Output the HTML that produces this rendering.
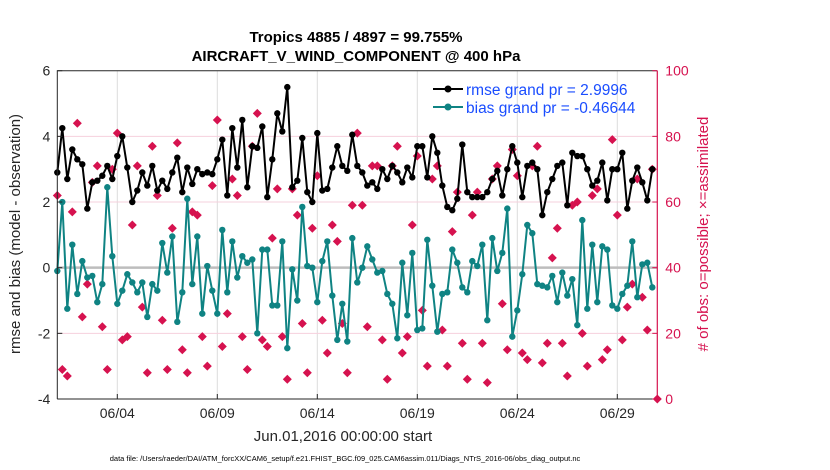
<!DOCTYPE html>
<html><head><meta charset="utf-8"><style>
body{margin:0;background:#fff;}
svg{display:block;font-family:"Liberation Sans",sans-serif;}
</style></head><body>
<svg id="chart" width="830" height="470" viewBox="0 0 830 470">
<g id="grid"></g><g id="marks"></g><g id="axes"></g>
</svg>
<script>
const rmse=[2.9,4.25,2.7,3.6,3.3,3.15,1.8,2.6,2.65,2.8,3.1,2.7,3.4,4.0,3.05,2.0,2.35,2.9,2.5,3.1,2.35,2.65,2.4,2.9,3.35,2.3,3.05,2.55,3.0,2.85,2.9,
2.85,3.3,3.9,2.2,4.25,3.05,4.5,2.45,3.7,3.65,4.3,2.15,3.3,4.7,4.15,5.5,2.45,2.65,3.95,2.3,2.0,4.1,2.35,2.4,3.05,3.7,3.1,2.95,4.05,
3.1,2.9,2.5,2.6,2.4,3.0,2.7,3.1,2.9,2.6,3.05,2.75,3.7,3.7,2.75,4.0,3.5,2.5,1.85,1.75,2.1,3.75,2.3,2.15,2.15,2.15,2.3,2.7,2.95,2.2,3.0,
3.7,3.2,2.15,3.1,3.2,3.0,1.6,2.3,2.7,3.1,3.2,1.9,3.5,3.4,3.4,3.0,2.5,2.65,3.2,2.05,3.0,3.0,3.5,1.8,2.65,3.05,2.6,2.05,3.0];
const bias=[-0.1,2.0,-1.25,0.7,-0.8,0.2,-0.3,-0.25,-1.05,-0.5,2.45,0.35,-1.1,-0.7,-0.2,-0.45,-0.75,-0.45,-1.5,-0.5,-0.7,0.75,-0.15,0.95,-1.65,-0.75,2.1,-0.5,0.95,-1.4,0.05,
-0.7,-1.4,1.15,-0.75,0.8,-0.3,0.35,0.15,0.25,-2.0,0.55,0.55,-1.15,-1.15,0.8,-2.45,-0.05,-1.0,1.85,0.05,0.0,-1.05,0.2,0.8,-0.85,-2.2,-1.1,-2.25,0.9,
-0.45,0.0,0.65,0.25,-0.15,-0.1,-0.8,-1.1,-2.15,0.15,-1.45,0.45,-1.9,-1.85,0.85,-0.55,-1.95,-0.8,-0.75,0.55,0.15,-0.6,-0.75,0.2,0.05,0.7,-1.6,0.9,-0.1,0.45,1.8,
-2.1,-1.3,-0.2,1.3,1.05,-0.5,-0.55,-0.6,-0.25,-1.05,-0.15,-0.85,-0.35,-1.75,1.45,-1.25,0.7,-1.05,0.65,0.55,-1.15,-1.25,-0.8,-0.55,0.8,-0.9,0.1,0.15,-0.6];
const nobs=[62,9,7,57,84,25,35,66,71,22,9,70,81,18,19,53,71,28,8,77,62,24,9,52,78,15,8,57,56,19,10,
65,85,16,26,67,62,19,9,77,87,18,16,49,64,19,6,64,56,23,8,52,68,24,14,53,48,23,8,59,81,
59,22,71,71,18,6,71,77,14,19,53,74,27,10,67,71,21,10,51,63,17,6,56,63,17,5,67,71,29,15,
76,68,14,12,71,77,11,17,43,52,17,7,59,60,20,10,62,64,12,15,79,56,18,28,35,67,31,21,70,0];
const xTicks=["06/04","06/09","06/14","06/19","06/24","06/29"];
const xTickDays=[3,8,13,18,23,28];
const yTicks=[6,4,2,0,-2,-4];
const rTicks=[0,20,40,60,80,100];

const X0=57.3,X1=657.3,Y0=70.7,Y1=399;
const xs=d=>X0+(d/30)*(X1-X0);
const yl=v=>Y0+(6-v)/10*(Y1-Y0);
const yr=v=>Y1-v/100*(Y1-Y0);
const NS="http://www.w3.org/2000/svg";
function mk(tag,attrs,parent,text){const e=document.createElementNS(NS,tag);for(const k in attrs)e.setAttribute(k,attrs[k]);if(text!==undefined)e.textContent=text;parent.appendChild(e);return e;}
const grid=document.getElementById('grid'),marks=document.getElementById('marks'),axes=document.getElementById('axes');

// grid
for(let i=0;i<xTickDays.length;i++){const x=xs(xTickDays[i]);
 const l=mk('line',{x1:x,x2:x,y1:Y0,y2:Y1,stroke:'#dcdcdc','stroke-width':1},grid);
 
 }
for(const v of rTicks){if(v===0||v===100)continue;const y=yr(v);
 const l=mk('line',{x1:X0,x2:X1,y1:y,y2:y,stroke:'#f6d0dd','stroke-width':1},grid);
 
 }
const z=mk('line',{x1:X0,x2:X1,y1:yl(0),y2:yl(0),stroke:'#bdbdbd','stroke-width':2.5},grid);



// pink obs markers
nobs.forEach((v,i)=>{const x=xs(i*0.25),y=yr(v);
 const p=mk('path',{d:`M${x} ${y-4.5}L${x+4.5} ${y}L${x} ${y+4.5}L${x-4.5} ${y}Z`,fill:'#d6124f'},marks);
 
 });

function series(arr,color,name){
 const pts=arr.map((v,i)=>xs(i*0.25)+','+yl(v)).join(' ');
 const pl=mk('polyline',{points:pts,fill:'none',stroke:color,'stroke-width':2,'stroke-linejoin':'round'},marks);
 
 
 arr.forEach((v,i)=>{const c=mk('circle',{cx:xs(i*0.25),cy:yl(v),r:3.2,fill:color},marks);
  
  });
}
series(bias,'#0f8383','bias');
series(rmse,'#000000','rmse');

// axes box
const ax=mk('path',{d:`M${X0} ${Y1}L${X0} ${Y0}L${X1} ${Y0}M${X0} ${Y1}L${X1} ${Y1}`,fill:'none',stroke:'#262626','stroke-width':1},axes);


const ra=mk('line',{x1:X1,x2:X1,y1:Y0,y2:Y1,stroke:'#d6124f','stroke-width':1.2},axes);



yTicks.forEach(v=>{const y=yl(v);
 mk('line',{x1:X0,x2:X0+5,y1:y,y2:y,stroke:'#262626'},axes);
 const t=mk('text',{x:X0-7,y:y+5,'text-anchor':'end','font-size':14,fill:'#262626'},axes,String(v));
 
 });
rTicks.forEach(v=>{const y=yr(v);
 mk('line',{x1:X1-5,x2:X1,y1:y,y2:y,stroke:'#d6124f'},axes);
 const t=mk('text',{x:X1+8,y:y+5,'font-size':14,fill:'#d6124f'},axes,String(v));
 
 });
xTicks.forEach((s,i)=>{const x=xs(xTickDays[i]);
 mk('line',{x1:x,x2:x,y1:Y1,y2:Y1-5,stroke:'#262626'},axes);
 const t=mk('text',{x:x,y:Y1+19,'text-anchor':'middle','font-size':14,fill:'#262626'},axes,s);
 
 });
</script>
<svg style="position:absolute;left:0;top:0" width="830" height="470">
<text x="356" y="42" text-anchor="middle" font-size="15" font-weight="bold" font-family="Liberation Sans">Tropics 4885 / 4897 = 99.755%</text>
<text x="356" y="61" text-anchor="middle" font-size="15" font-weight="bold" font-family="Liberation Sans">AIRCRAFT_V_WIND_COMPONENT @ 400 hPa</text>
<text transform="translate(20,234) rotate(-90)" text-anchor="middle" font-size="15" fill="#262626" font-family="Liberation Sans">rmse and bias (model - observation)</text>
<text transform="translate(708,234) rotate(-90)" text-anchor="middle" font-size="15" fill="#d6124f" font-family="Liberation Sans"># of obs: o=possible; ×=assimilated</text>
<text x="343" y="441" text-anchor="middle" font-size="15" fill="#262626" font-family="Liberation Sans">Jun.01,2016 00:00:00 start</text>
<text x="345" y="461" text-anchor="middle" font-size="7.5" fill="#000" font-family="Liberation Sans">data file: /Users/raeder/DAI/ATM_forcXX/CAM6_setup/f.e21.FHIST_BGC.f09_025.CAM6assim.011/Diags_NTrS_2016-06/obs_diag_output.nc</text>
<g>
<line x1="433" x2="463" y1="89" y2="89" stroke="#000" stroke-width="2"/><circle cx="448" cy="89" r="3.5" fill="#000"/>
<text x="466" y="95" font-size="15.5" fill="#1a4dff" font-family="Liberation Sans">rmse grand pr = 2.9996</text>
<line x1="433" x2="463" y1="107" y2="107" stroke="#0f8383" stroke-width="2"/><circle cx="448" cy="107" r="3.5" fill="#0f8383"/>
<text x="466" y="113" font-size="15.5" fill="#1a4dff" font-family="Liberation Sans">bias grand pr = -0.46644</text>
</g>
</svg>
</body></html>
